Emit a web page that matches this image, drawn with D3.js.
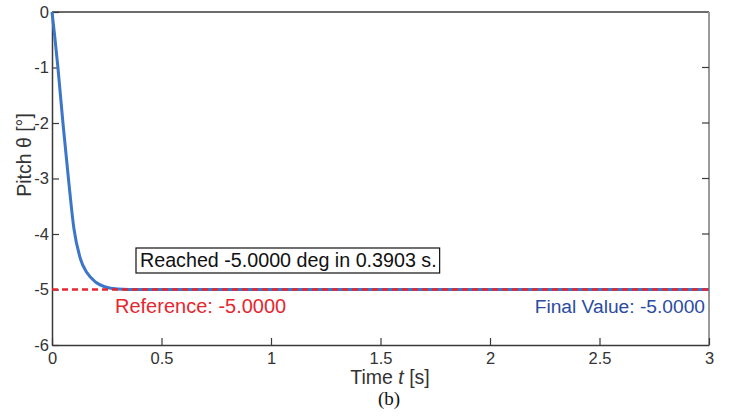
<!DOCTYPE html>
<html>
<head>
<meta charset="utf-8">
<script src="https://cdn.jsdelivr.net/npm/d3@7"></script>
<style>
  body { margin: 0; background: #fff; }
  text { font-family: "Liberation Sans", Arial, sans-serif; }
</style>
</head>
<body>
<div id="chart"></div>
<script>
// step response
const timeVals  = [0, 0.012, 0.027, 0.05, 0.075, 0.1, 0.13, 0.16, 0.2, 0.24, 0.3, 0.4, 1, 2, 3];
const pitchVals = [0, -0.42, -1, -2, -3, -3.9, -4.45, -4.7, -4.87, -4.95, -4.99, -5, -5, -5, -5];
const refValue = -5;
const xTicks = [0, 0.5, 1, 1.5, 2, 2.5, 3];
const yTicks = [0, -1, -2, -3, -4, -5, -6];
const reachedText = "Reached -5.0000 deg in 0.3903 s.";
const refText = "Reference: -5.0000";
const finalText = "Final Value: -5.0000";

const W = 731, H = 417;
const margin = {top: 12, right: 22, bottom: 72, left: 52};

const svg = d3.select("#chart").append("svg")
    .attr("width", W)
    .attr("height", H);

const x = d3.scaleLinear().domain([0, 3]).range([margin.left, W - margin.right]);
const y = d3.scaleLinear().domain([-6, 0]).range([H - margin.bottom, margin.top]);

const axisColor = "#3a3a3a";
const fmt = d => String(d);

// frame: top + bottom dark, right lighter grey
svg.append("line")
    .attr("x1", x(0)).attr("x2", x(3)).attr("y1", y(0)).attr("y2", y(0))
    .attr("stroke", axisColor).attr("stroke-width", 1.5);
svg.append("line")
    .attr("x1", x(3)).attr("x2", x(3)).attr("y1", y(0)).attr("y2", y(-6))
    .attr("stroke", "#9a9a9a").attr("stroke-width", 2);

// bottom axis, ticks pointing inward
const gx = svg.append("g")
    .attr("transform", `translate(0,${y(-6)})`)
    .call(d3.axisBottom(x).tickValues(xTicks).tickSizeInner(-7).tickSizeOuter(0).tickPadding(5)
        .tickFormat(fmt));
gx.attr("font-size", null).attr("font-family", null);
gx.select(".domain").attr("stroke", axisColor).attr("stroke-width", 1.5);
gx.selectAll(".tick line").attr("stroke", axisColor).attr("stroke-width", 1.2);
gx.selectAll(".tick text").attr("fill", "#333").style("font-size", "16.5px")
    .attr("dy", "0.85em");

// left axis
const gy = svg.append("g")
    .attr("transform", `translate(${x(0)},0)`)
    .call(d3.axisLeft(y).tickValues(yTicks).tickSizeInner(-7).tickSizeOuter(0).tickPadding(3)
        .tickFormat(fmt));
gy.attr("font-size", null).attr("font-family", null);
gy.select(".domain").attr("stroke", axisColor).attr("stroke-width", 1.5);
gy.selectAll(".tick line").attr("stroke", axisColor).attr("stroke-width", 1.2);
gy.selectAll(".tick text").attr("fill", "#333").style("font-size", "16.5px");

// right-side inner ticks
svg.append("g").selectAll("line")
    .data(yTicks.slice(1, -1))
    .join("line")
    .attr("x1", x(3) - 7).attr("x2", x(3))
    .attr("y1", d => y(d)).attr("y2", d => y(d))
    .attr("stroke", axisColor).attr("stroke-width", 1.2);

// response curve
const line = d3.line()
    .x((d, i) => x(timeVals[i]))
    .y(d => y(d))
    .curve(d3.curveMonotoneX);

svg.append("path")
    .datum(pitchVals)
    .attr("d", line)
    .attr("fill", "none")
    .attr("stroke", "#3b76c9")
    .attr("stroke-width", 3);

// reference line
svg.append("line")
    .attr("x1", x(0)).attr("x2", x(3))
    .attr("y1", y(refValue)).attr("y2", y(refValue))
    .attr("stroke", "#e52730").attr("stroke-width", 2.5)
    .attr("stroke-dasharray", "6,4");

// annotations
const box = svg.append("rect")
    .attr("fill", "#fff").attr("stroke", "#111").attr("stroke-width", 1.2);
const rt = svg.append("text")
    .attr("x", 140).attr("y", 267)
    .attr("fill", "#111").style("font-size", "19.7px")
    .text(reachedText);
const bb = rt.node().getBBox();
box.attr("x", bb.x - 4).attr("y", 248)
    .attr("width", bb.width + 7).attr("height", 25);

svg.append("text")
    .attr("x", 115).attr("y", 313)
    .attr("fill", "#e52730").style("font-size", "20px")
    .text(refText);

svg.append("text")
    .attr("x", 705).attr("y", 313)
    .attr("text-anchor", "end")
    .attr("fill", "#2b4ba3").style("font-size", "19.2px")
    .text(finalText);

// axis labels
const xl = svg.append("text")
    .attr("x", 390).attr("y", 384)
    .attr("text-anchor", "middle")
    .attr("fill", "#333").style("font-size", "19.5px");
xl.append("tspan").text("Time ");
xl.append("tspan").style("font-style", "italic").text("t");
xl.append("tspan").text(" [s]");

svg.append("text")
    .attr("transform", "translate(31,155) rotate(-90)")
    .attr("text-anchor", "middle")
    .attr("fill", "#333").style("font-size", "19.5px")
    .text("Pitch θ [°]");

svg.append("text")
    .attr("x", 389).attr("y", 405)
    .attr("text-anchor", "middle")
    .attr("fill", "#111")
    .style("font-family", "'Liberation Serif', 'Times New Roman', serif")
    .style("font-size", "19px")
    .text("(b)");
</script>
</body>
</html>
